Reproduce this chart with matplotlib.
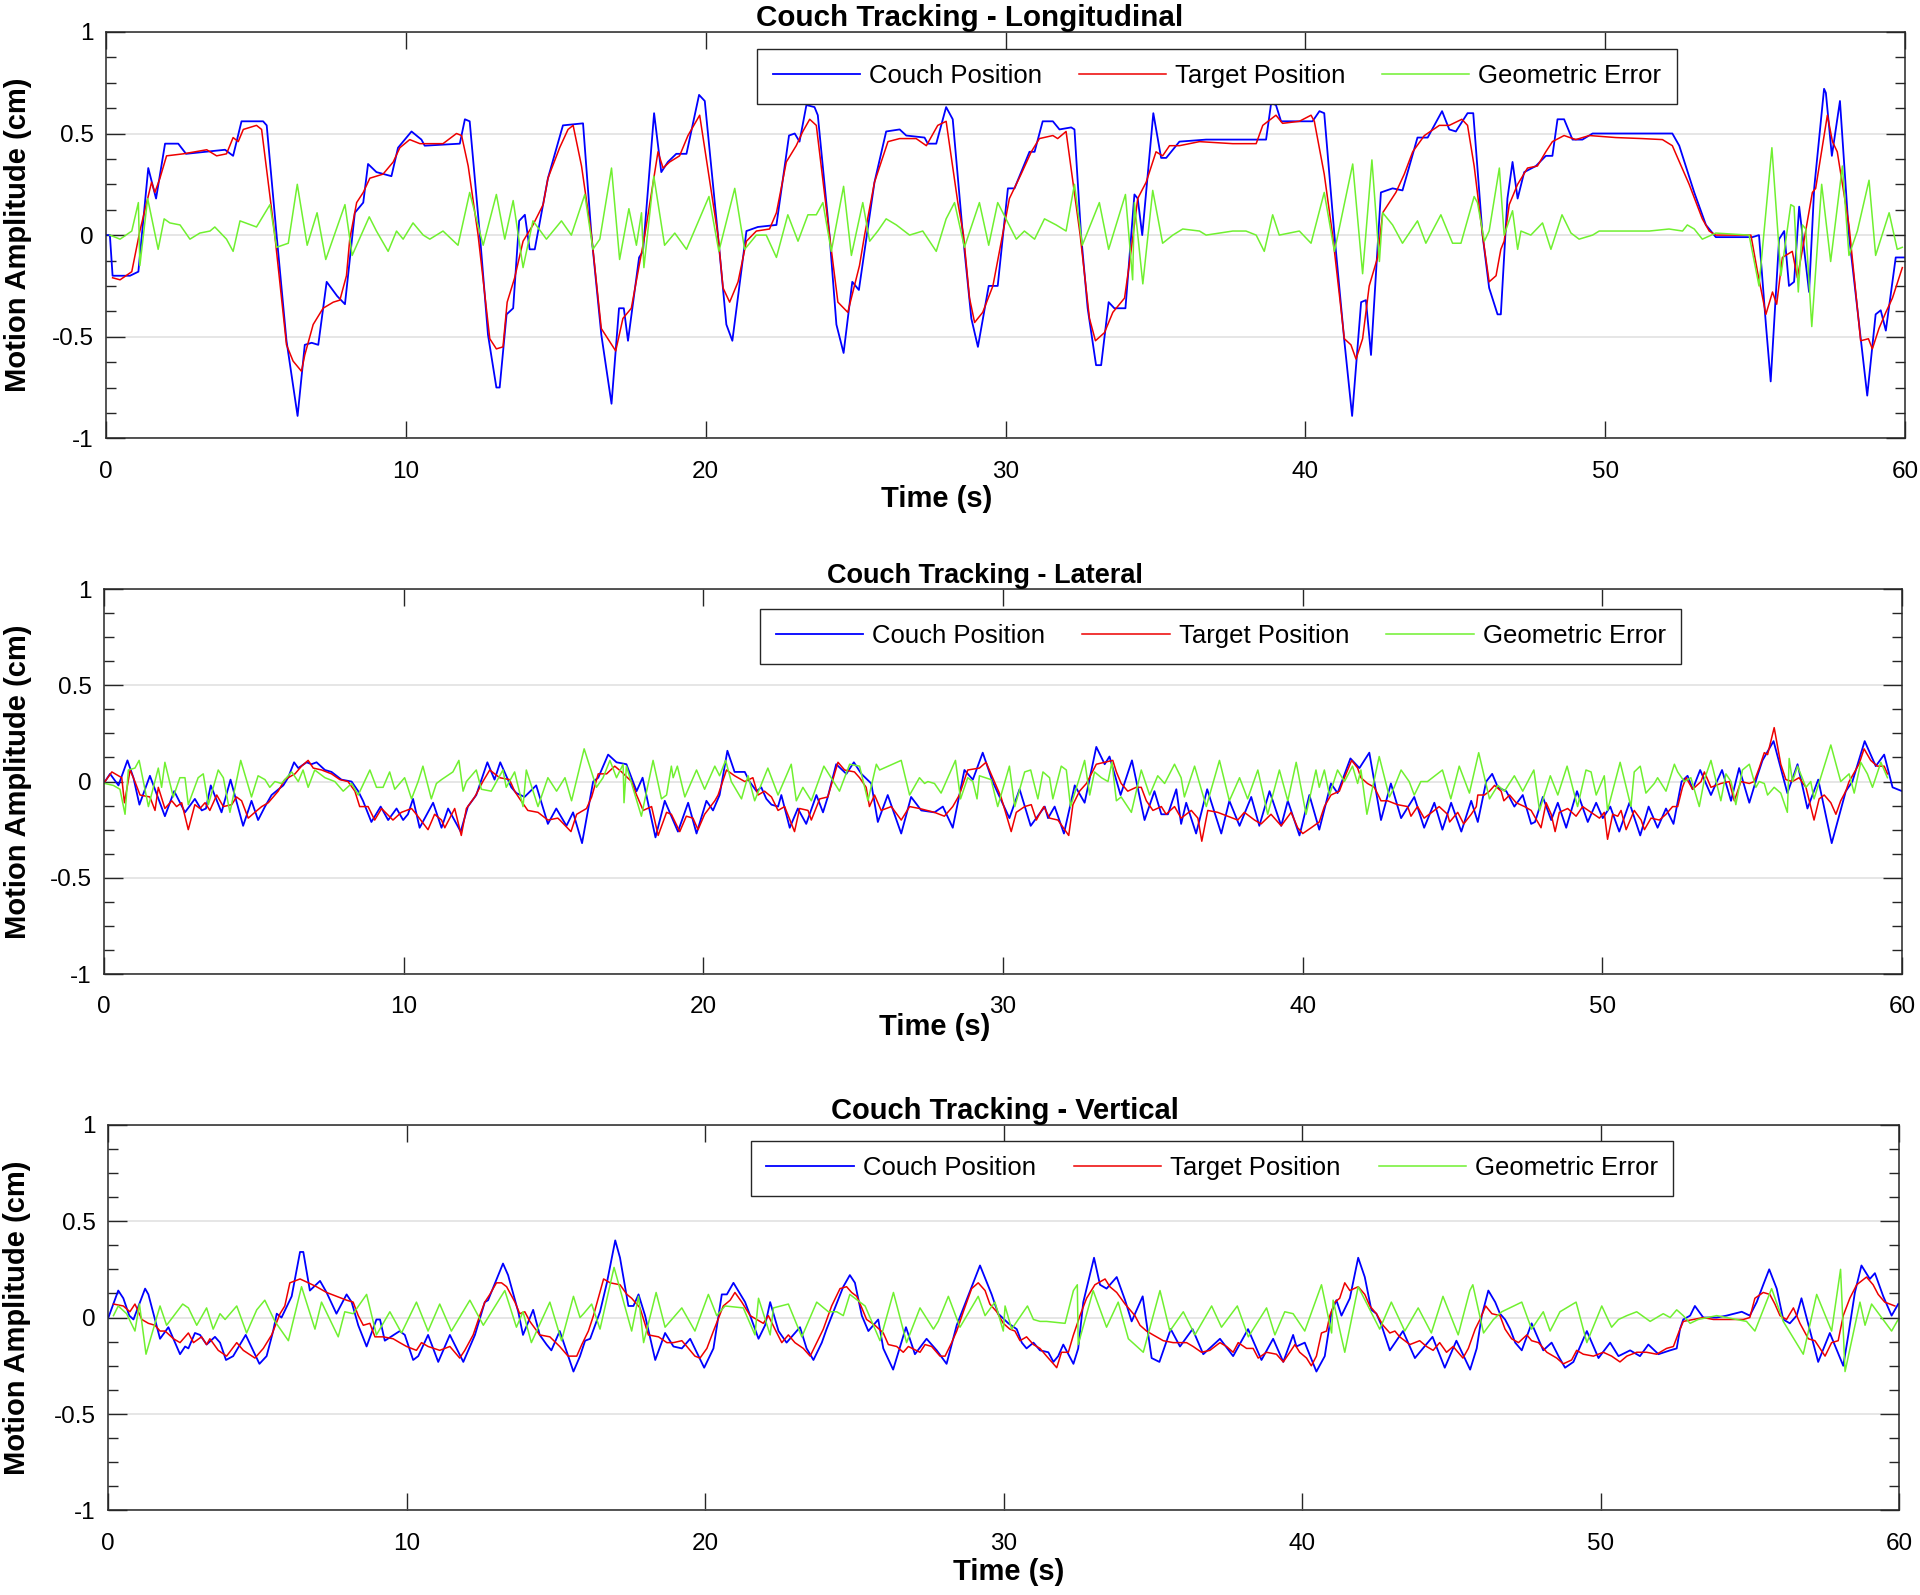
import numpy as np
import matplotlib.pyplot as plt
from matplotlib.ticker import MultipleLocator

plt.rcParams['font.family'] = ['Liberation Sans', 'DejaVu Sans']

# ---- Longitudinal (time s, amplitude cm) ----
long_couch = [
    (0.0, 0.0), (0.13, 0.0), (0.22, -0.2), (0.8, -0.2), (1.08, -0.18), (1.41, 0.33), (1.67, 0.18), (1.97, 0.45),
    (2.41, 0.45), (2.67, 0.40), (3.97, 0.42), (4.24, 0.39), (4.52, 0.56), (5.24, 0.56), (5.36, 0.54), (5.69, 0.0),
    (6.02, -0.52), (6.39, -0.89), (6.63, -0.54), (6.86, -0.53), (7.08, -0.54), (7.36, -0.23), (7.71, -0.30),
    (7.97, -0.34), (8.3, 0.11), (8.58, 0.16), (8.74, 0.35), (9.02, 0.31), (9.52, 0.29), (9.74, 0.43), (10.19, 0.51),
    (10.52, 0.47), (10.63, 0.44), (11.8, 0.45), (11.97, 0.57), (12.13, 0.56), (12.47, 0.0), (12.74, -0.49),
    (13.02, -0.75), (13.13, -0.75), (13.36, -0.39), (13.58, -0.36), (13.78, 0.07), (13.97, 0.10), (14.13, -0.07),
    (14.3, -0.07), (14.74, 0.28), (15.24, 0.54), (15.91, 0.55), (16.19, 0.0), (16.52, -0.49), (16.86, -0.83),
    (17.11, -0.36), (17.27, -0.36), (17.41, -0.52), (17.78, -0.11), (17.91, -0.08), (18.28, 0.60), (18.52, 0.31),
    (18.74, 0.36), (19.02, 0.40), (19.36, 0.40), (19.78, 0.69), (19.97, 0.66), (20.41, 0.0), (20.69, -0.44),
    (20.89, -0.52), (21.36, 0.02), (21.74, 0.04), (22.36, 0.05), (22.78, 0.49), (22.97, 0.50), (23.13, 0.46),
    (23.36, 0.64), (23.63, 0.63), (23.74, 0.59), (24.13, 0.0), (24.36, -0.44), (24.6, -0.58), (24.89, -0.23),
    (25.11, -0.27), (25.63, 0.26), (26.02, 0.51), (26.47, 0.52), (26.69, 0.49), (27.3, 0.48), (27.41, 0.45),
    (27.69, 0.45), (28.02, 0.63), (28.24, 0.57), (28.58, 0.0), (28.86, -0.41), (29.08, -0.55), (29.44, -0.25),
    (29.74, -0.25), (30.08, 0.23), (30.3, 0.23), (30.8, 0.41), (30.97, 0.41), (31.24, 0.56), (31.58, 0.56),
    (31.8, 0.52), (32.19, 0.53), (32.3, 0.52), (32.52, 0.0), (32.74, -0.36), (33.02, -0.64), (33.19, -0.64),
    (33.44, -0.33), (33.63, -0.36), (34.0, -0.36), (34.3, 0.20), (34.41, 0.18), (34.56, 0.0), (34.93, 0.60),
    (35.19, 0.38), (35.36, 0.38), (35.8, 0.46), (36.69, 0.47), (38.02, 0.47), (38.69, 0.47), (38.86, 0.65),
    (39.02, 0.64), (39.19, 0.56), (40.24, 0.56), (40.47, 0.61), (40.63, 0.60), (40.97, 0.0), (41.3, -0.52),
    (41.56, -0.89), (41.86, -0.33), (42.02, -0.32), (42.19, -0.59), (42.52, 0.21), (42.91, 0.23), (43.24, 0.22),
    (43.74, 0.48), (44.08, 0.48), (44.56, 0.61), (44.8, 0.52), (45.02, 0.51), (45.41, 0.60), (45.6, 0.60),
    (45.91, 0.0), (46.13, -0.26), (46.41, -0.39), (46.52, -0.39), (46.74, 0.18), (46.91, 0.36), (47.08, 0.18),
    (47.3, 0.31), (47.69, 0.34), (48.02, 0.39), (48.24, 0.39), (48.41, 0.57), (48.63, 0.57), (48.91, 0.47),
    (49.24, 0.47), (49.58, 0.50), (52.24, 0.50), (52.47, 0.44), (52.97, 0.21), (53.36, 0.05), (53.69, -0.01),
    (54.91, -0.01), (55.13, 0.0), (55.36, -0.44), (55.52, -0.72), (55.8, -0.02), (55.97, 0.02), (56.13, -0.25),
    (56.3, -0.23), (56.47, 0.14), (56.8, -0.28), (56.97, 0.23), (57.3, 0.72), (57.36, 0.70), (57.56, 0.39),
    (57.83, 0.66), (58.13, 0.0), (58.47, -0.44), (58.74, -0.79), (59.02, -0.39), (59.19, -0.37), (59.36, -0.47),
    (59.69, -0.11), (60.0, -0.11),
]
long_target = [
    (0.22, -0.21), (0.47, -0.22), (0.86, -0.18), (1.13, 0.02), (1.52, 0.26), (1.63, 0.21), (1.8, 0.28),
    (2.02, 0.39), (2.58, 0.40), (3.36, 0.42), (3.69, 0.39), (4.02, 0.40), (4.24, 0.48), (4.41, 0.46), (4.58, 0.52),
    (5.02, 0.54), (5.19, 0.52), (5.63, 0.0), (6.02, -0.54), (6.24, -0.62), (6.52, -0.67), (6.63, -0.59),
    (6.91, -0.44), (7.24, -0.36), (7.58, -0.33), (7.8, -0.32), (8.02, -0.20), (8.13, -0.02), (8.36, 0.16),
    (8.58, 0.21), (8.8, 0.28), (9.24, 0.30), (9.58, 0.36), (9.8, 0.43), (10.13, 0.47), (10.47, 0.45), (11.24, 0.45),
    (11.69, 0.50), (11.86, 0.49), (12.08, 0.34), (12.41, 0.0), (12.8, -0.51), (13.02, -0.56), (13.24, -0.55),
    (13.38, -0.33), (13.63, -0.21), (13.91, -0.03), (14.24, 0.05), (14.58, 0.15), (14.74, 0.28), (15.13, 0.43),
    (15.41, 0.52), (15.58, 0.54), (15.86, 0.34), (16.19, 0.0), (16.52, -0.46), (16.74, -0.51), (17.0, -0.57),
    (17.24, -0.41), (17.52, -0.36), (17.97, 0.0), (18.41, 0.41), (18.58, 0.33), (18.8, 0.36), (19.13, 0.39),
    (19.41, 0.49), (19.8, 0.59), (20.41, 0.0), (20.58, -0.26), (20.8, -0.33), (21.08, -0.23), (21.36, -0.03),
    (21.69, 0.02), (22.13, 0.03), (22.36, 0.11), (22.69, 0.36), (23.02, 0.44), (23.24, 0.51), (23.47, 0.57),
    (23.69, 0.54), (24.13, 0.0), (24.41, -0.33), (24.74, -0.38), (25.13, -0.15), (25.3, 0.0), (25.63, 0.26),
    (26.08, 0.46), (26.47, 0.475), (27.02, 0.475), (27.36, 0.44), (27.74, 0.54), (28.02, 0.56), (28.41, 0.16),
    (28.6, 0.0), (28.8, -0.31), (28.97, -0.43), (29.24, -0.38), (29.58, -0.25), (29.86, -0.03), (30.13, 0.18),
    (30.52, 0.30), (30.86, 0.41), (31.13, 0.475), (31.58, 0.49), (31.74, 0.475), (32.02, 0.51), (32.49, 0.0),
    (32.8, -0.41), (33.0, -0.52), (33.3, -0.48), (33.58, -0.38), (33.97, -0.31), (34.16, -0.11), (34.41, 0.18),
    (34.69, 0.26), (35.02, 0.41), (35.24, 0.39), (35.47, 0.44), (35.8, 0.44), (36.47, 0.46), (37.58, 0.45),
    (38.36, 0.45), (38.58, 0.54), (39.02, 0.59), (39.24, 0.55), (39.8, 0.56), (40.19, 0.59), (40.3, 0.56),
    (40.63, 0.30), (40.91, 0.0), (41.3, -0.51), (41.52, -0.54), (41.69, -0.61), (41.91, -0.51), (42.13, -0.25),
    (42.41, -0.11), (42.58, 0.11), (43.02, 0.21), (43.3, 0.30), (43.58, 0.41), (43.97, 0.49), (44.47, 0.54),
    (44.8, 0.54), (45.22, 0.57), (45.41, 0.54), (45.63, 0.34), (45.91, 0.0), (46.13, -0.23), (46.36, -0.20),
    (46.52, -0.07), (46.63, -0.03), (46.8, 0.15), (47.08, 0.25), (47.41, 0.33), (47.74, 0.34), (48.02, 0.41),
    (48.24, 0.46), (48.63, 0.49), (49.02, 0.47), (49.47, 0.49), (50.36, 0.48), (51.24, 0.475), (51.91, 0.47),
    (52.24, 0.44), (52.8, 0.25), (53.24, 0.08), (53.47, 0.02), (53.69, 0.0), (54.86, 0.0), (55.08, -0.18),
    (55.36, -0.39), (55.58, -0.28), (55.72, -0.34), (55.91, -0.11), (56.24, -0.08), (56.41, -0.21), (56.58, -0.07),
    (56.91, 0.21), (57.02, 0.23), (57.41, 0.59), (57.58, 0.46), (57.74, 0.41), (58.13, 0.05), (58.52, -0.52),
    (58.78, -0.51), (58.91, -0.56), (59.13, -0.46), (59.36, -0.38), (59.58, -0.31), (59.91, -0.16),
]
long_error = [
    (0.13, 0.0), (0.47, -0.02), (0.86, 0.02), (1.08, 0.16), (1.13, -0.15), (1.39, 0.18), (1.74, -0.07),
    (1.94, 0.08), (2.13, 0.06), (2.47, 0.05), (2.8, -0.02), (3.13, 0.01), (3.47, 0.02), (3.63, 0.04), (4.02, -0.02),
    (4.24, -0.08), (4.47, 0.07), (5.02, 0.04), (5.47, 0.15), (5.69, -0.06), (6.08, -0.04), (6.38, 0.25),
    (6.71, -0.05), (7.04, 0.11), (7.33, -0.12), (7.97, 0.15), (8.21, -0.10), (8.78, 0.09), (9.02, 0.02),
    (9.41, -0.08), (9.69, 0.02), (9.91, -0.02), (10.24, 0.06), (10.58, 0.0), (10.8, -0.02), (11.24, 0.02),
    (11.74, -0.05), (12.13, 0.21), (12.58, -0.05), (13.02, 0.20), (13.3, -0.02), (13.58, 0.17), (13.91, -0.16),
    (14.24, 0.07), (14.69, -0.02), (15.19, 0.07), (15.52, 0.0), (15.97, 0.20), (16.24, -0.07), (16.47, -0.02),
    (16.86, 0.33), (17.13, -0.12), (17.44, 0.13), (17.69, -0.05), (17.86, 0.11), (17.94, -0.16), (18.27, 0.29),
    (18.63, -0.05), (18.97, 0.01), (19.36, -0.07), (20.11, 0.19), (20.44, -0.08), (20.97, 0.23), (21.3, -0.07),
    (21.69, 0.0), (22.02, 0.0), (22.36, -0.11), (22.74, 0.10), (23.08, -0.03), (23.41, 0.10), (23.69, 0.10),
    (23.91, 0.16), (24.19, -0.08), (24.6, 0.24), (24.86, -0.10), (25.24, 0.16), (25.47, -0.03), (25.74, 0.02),
    (26.02, 0.08), (26.36, 0.05), (26.8, 0.0), (27.24, 0.02), (27.69, -0.08), (28.02, 0.08), (28.3, 0.16),
    (28.63, -0.06), (29.13, 0.16), (29.44, -0.05), (29.74, 0.16), (30.36, -0.02), (30.63, 0.02), (30.97, -0.02),
    (31.3, 0.08), (31.69, 0.05), (32.02, 0.02), (32.3, 0.25), (32.56, -0.05), (33.13, 0.16), (33.44, -0.07),
    (34.0, 0.20), (34.24, -0.22), (34.3, 0.16), (34.58, -0.24), (34.91, 0.22), (35.24, -0.04), (35.58, 0.0),
    (35.91, 0.03), (36.47, 0.02), (36.69, 0.0), (37.58, 0.02), (38.02, 0.02), (38.36, 0.0), (38.63, -0.08),
    (38.91, 0.10), (39.13, 0.0), (39.8, 0.02), (40.19, -0.04), (40.63, 0.21), (40.97, -0.08), (41.58, 0.35),
    (41.91, -0.19), (42.22, 0.37), (42.47, -0.13), (42.58, 0.11), (42.91, 0.05), (43.24, -0.04), (43.74, 0.07),
    (44.02, -0.04), (44.52, 0.10), (44.91, -0.04), (45.19, -0.04), (45.63, 0.19), (45.74, 0.16), (45.97, -0.03),
    (46.13, 0.02), (46.47, 0.33), (46.63, 0.0), (46.91, 0.12), (47.08, -0.07), (47.19, 0.02), (47.52, 0.0),
    (47.91, 0.06), (48.19, -0.07), (48.56, 0.10), (48.86, 0.01), (49.13, -0.02), (49.58, 0.0), (49.8, 0.02),
    (50.58, 0.02), (51.47, 0.02), (52.13, 0.03), (52.58, 0.02), (52.74, 0.05), (52.97, 0.03), (53.24, -0.02),
    (53.69, 0.01), (54.8, 0.0), (55.13, -0.25), (55.56, 0.43), (55.86, -0.20), (56.19, 0.15), (56.3, 0.14),
    (56.44, -0.28), (56.58, 0.05), (56.69, 0.03), (56.89, -0.45), (57.22, 0.25), (57.52, -0.13), (57.91, 0.34),
    (58.13, -0.10), (58.41, 0.02), (58.8, 0.27), (59.02, -0.10), (59.47, 0.11), (59.74, -0.07), (59.91, -0.06),
]

# ---- Lateral ----
lat_couch = [
    (0.03, 0.0), (0.2, 0.04), (0.48, -0.02), (0.78, 0.11), (0.98, 0.02), (1.18, -0.12), (1.53, 0.03),
    (2.03, -0.18), (2.34, -0.05), (2.7, -0.16), (3.03, -0.09), (3.26, -0.15), (3.4, -0.14), (3.56, -0.02),
    (3.92, -0.16), (4.22, 0.01), (4.64, -0.23), (4.92, -0.10), (5.14, -0.20), (5.37, -0.13), (5.59, -0.07),
    (5.98, -0.02), (6.14, 0.02), (6.34, 0.10), (6.48, 0.07), (6.76, 0.10), (6.92, 0.09), (7.09, 0.10),
    (7.37, 0.06), (7.59, 0.05), (7.92, 0.01), (8.26, 0.0), (8.48, -0.05), (8.64, -0.10), (8.92, -0.21),
    (9.23, -0.13), (9.48, -0.20), (9.76, -0.14), (9.98, -0.20), (10.14, -0.17), (10.31, -0.09), (10.53, -0.24),
    (10.98, -0.11), (11.26, -0.24), (11.48, -0.14), (11.9, -0.26), (12.14, -0.13), (12.42, -0.07), (12.79, 0.10),
    (13.03, 0.01), (13.22, 0.10), (13.59, -0.03), (13.76, -0.06), (14.03, -0.08), (14.42, -0.02), (14.81, -0.22),
    (15.09, -0.14), (15.43, -0.23), (15.65, -0.16), (15.95, -0.32), (16.32, 0.0), (16.49, 0.02), (16.82, 0.14),
    (17.1, 0.10), (17.43, 0.09), (17.65, 0.0), (17.77, -0.05), (17.97, 0.02), (18.4, -0.29), (18.71, -0.10),
    (19.15, -0.26), (19.49, -0.11), (19.77, -0.27), (20.1, -0.10), (20.32, -0.15), (20.54, -0.07), (20.8, 0.16),
    (21.04, 0.05), (21.38, 0.05), (21.54, 0.0), (21.77, -0.05), (21.93, -0.03), (22.1, -0.09), (22.27, -0.12),
    (22.49, -0.13), (22.6, -0.07), (22.88, -0.24), (23.15, -0.14), (23.43, -0.22), (23.77, -0.07), (23.99, -0.16),
    (24.15, -0.08), (24.43, 0.09), (24.77, 0.04), (25.02, 0.10), (25.27, 0.04), (25.6, -0.01), (25.82, -0.21),
    (26.15, -0.07), (26.6, -0.27), (26.93, -0.08), (27.27, -0.15), (27.71, -0.16), (27.99, -0.13), (28.32, -0.24),
    (28.54, -0.07), (28.71, 0.06), (28.99, 0.01), (29.32, 0.15), (29.65, 0.0), (30.21, -0.19), (30.55, -0.04),
    (30.92, -0.23), (31.39, -0.13), (31.5, -0.19), (31.72, -0.13), (32.03, -0.27), (32.39, -0.02), (32.72, -0.11),
    (33.11, 0.18), (33.39, 0.09), (33.55, 0.13), (33.92, -0.07), (34.3, 0.11), (34.72, -0.20), (35.05, -0.05),
    (35.28, -0.17), (35.5, -0.17), (35.78, -0.04), (35.94, -0.22), (36.11, -0.11), (36.44, -0.27), (36.81, -0.04),
    (37.28, -0.27), (37.55, -0.10), (37.89, -0.23), (38.28, -0.08), (38.55, -0.23), (38.89, -0.05), (39.28, -0.23),
    (39.5, -0.10), (39.89, -0.28), (40.22, -0.07), (40.55, -0.25), (40.94, -0.01), (41.16, -0.06), (41.59, 0.12),
    (41.89, 0.07), (42.22, 0.15), (42.61, -0.20), (42.94, -0.01), (43.28, -0.19), (43.72, -0.08), (44.05, -0.24),
    (44.39, -0.11), (44.66, -0.25), (44.95, -0.11), (45.29, -0.26), (45.62, -0.10), (45.84, -0.21), (46.12, 0.0),
    (46.32, 0.04), (46.51, -0.03), (46.79, -0.05), (47.06, -0.13), (47.34, -0.07), (47.62, -0.22), (47.75, -0.21),
    (48.01, -0.08), (48.29, -0.20), (48.51, -0.11), (48.79, -0.24), (49.15, -0.05), (49.51, -0.21), (49.79, -0.11),
    (50.01, -0.19), (50.26, -0.13), (50.56, -0.26), (50.9, -0.11), (51.26, -0.28), (51.54, -0.13), (51.84, -0.24),
    (52.12, -0.14), (52.37, -0.22), (52.64, 0.0), (52.84, 0.03), (53.01, -0.04), (53.26, 0.06), (53.62, -0.07),
    (53.99, 0.06), (54.29, -0.10), (54.56, 0.07), (54.9, -0.11), (55.17, 0.03), (55.34, 0.11), (55.71, 0.21),
    (56.17, -0.06), (56.51, 0.09), (56.84, -0.14), (57.2, 0.01), (57.65, -0.32), (58.12, -0.05), (58.34, 0.0),
    (58.75, 0.21), (59.12, 0.08), (59.4, 0.14), (59.68, -0.03), (60.0, -0.05),
]
lat_target = [
    (0.03, 0.0), (0.26, 0.05), (0.59, 0.02), (0.68, -0.11), (0.87, 0.06), (1.03, 0.0), (1.2, -0.07), (1.53, -0.08),
    (1.7, -0.15), (1.81, -0.03), (2.03, -0.14), (2.26, -0.10), (2.42, -0.13), (2.59, -0.11), (2.81, -0.25),
    (3.03, -0.12), (3.2, -0.14), (3.37, -0.11), (3.53, -0.15), (3.76, -0.07), (3.98, -0.13), (4.26, -0.12),
    (4.42, -0.08), (4.59, -0.10), (4.81, -0.19), (5.03, -0.16), (5.26, -0.13), (5.48, -0.11), (5.81, -0.05),
    (6.03, 0.01), (6.37, 0.04), (6.59, 0.08), (6.81, 0.11), (6.98, 0.07), (7.26, 0.06), (7.59, 0.04), (7.87, 0.01),
    (8.14, 0.0), (8.37, -0.05), (8.53, -0.13), (8.81, -0.13), (9.03, -0.20), (9.26, -0.14), (9.64, -0.20),
    (9.92, -0.16), (10.26, -0.14), (10.42, -0.17), (10.81, -0.25), (11.03, -0.17), (11.26, -0.20), (11.37, -0.24),
    (11.7, -0.14), (11.92, -0.28), (12.09, -0.14), (12.37, -0.08), (12.64, 0.0), (12.87, 0.06), (13.2, 0.02),
    (13.53, 0.01), (13.7, -0.05), (13.87, -0.09), (14.14, -0.15), (14.48, -0.16), (14.81, -0.20), (15.14, -0.19),
    (15.21, -0.20), (15.58, -0.26), (15.77, -0.17), (16.1, -0.14), (16.27, -0.08), (16.49, 0.04), (16.77, 0.04),
    (17.04, 0.08), (17.27, 0.05), (17.6, 0.0), (17.77, -0.07), (17.99, -0.15), (18.27, -0.13), (18.49, -0.28),
    (18.77, -0.16), (18.93, -0.17), (19.21, -0.26), (19.43, -0.18), (19.65, -0.19), (19.82, -0.25), (20.04, -0.17),
    (20.38, -0.10), (20.49, -0.07), (20.77, 0.06), (21.04, 0.03), (21.38, 0.0), (21.65, 0.02), (21.82, -0.07),
    (22.04, -0.05), (22.27, -0.08), (22.49, -0.15), (22.71, -0.13), (23.04, -0.26), (23.21, -0.14), (23.49, -0.15),
    (23.6, -0.20), (23.88, -0.09), (24.15, -0.08), (24.49, 0.10), (24.71, 0.06), (25.04, 0.05), (25.21, 0.02),
    (25.43, -0.03), (25.54, -0.13), (25.71, -0.07), (25.93, -0.15), (26.27, -0.13), (26.6, -0.20), (26.88, -0.13),
    (27.21, -0.14), (27.71, -0.16), (28.04, -0.18), (28.32, -0.13), (28.54, -0.07), (28.82, 0.06), (29.21, 0.07),
    (29.43, 0.10), (29.71, 0.0), (29.93, -0.08), (30.27, -0.26), (30.44, -0.16), (30.72, -0.13), (30.94, -0.12),
    (31.11, -0.20), (31.28, -0.15), (31.36, -0.13), (31.55, -0.19), (31.83, -0.20), (32.19, -0.28), (32.33, -0.12),
    (32.55, -0.05), (32.78, -0.01), (33.11, 0.09), (33.39, 0.10), (33.66, 0.11), (33.78, 0.05), (33.94, -0.01),
    (34.16, -0.05), (34.44, -0.03), (34.61, -0.03), (34.78, -0.10), (35.0, -0.15), (35.28, -0.13), (35.44, -0.17),
    (35.72, -0.13), (35.94, -0.19), (36.28, -0.15), (36.5, -0.19), (36.63, -0.31), (36.83, -0.15), (37.16, -0.16),
    (37.5, -0.18), (37.83, -0.20), (38.05, -0.16), (38.39, -0.20), (38.61, -0.22), (38.94, -0.17), (39.28, -0.23),
    (39.61, -0.16), (39.83, -0.24), (40.0, -0.27), (40.28, -0.24), (40.55, -0.21), (40.72, -0.13), (40.94, -0.07),
    (41.22, -0.05), (41.39, 0.02), (41.63, 0.11), (41.83, 0.07), (41.94, 0.02), (42.16, -0.01), (42.39, -0.03),
    (42.61, -0.10), (42.83, -0.10), (43.16, -0.12), (43.5, -0.13), (43.61, -0.18), (43.83, -0.13), (44.05, -0.19),
    (44.39, -0.15), (44.55, -0.13), (44.83, -0.17), (44.9, -0.21), (45.17, -0.16), (45.37, -0.22), (45.62, -0.17),
    (45.79, -0.13), (45.84, -0.07), (46.06, -0.07), (46.23, -0.05), (46.4, -0.02), (46.62, -0.05), (46.71, -0.10),
    (46.9, -0.07), (47.12, -0.11), (47.4, -0.13), (47.62, -0.15), (47.95, -0.24), (48.12, -0.11), (48.29, -0.17),
    (48.42, -0.26), (48.56, -0.16), (48.84, -0.14), (49.12, -0.18), (49.34, -0.13), (49.62, -0.16), (49.9, -0.19),
    (50.06, -0.16), (50.17, -0.30), (50.34, -0.17), (50.51, -0.18), (50.62, -0.15), (50.79, -0.25), (51.06, -0.15),
    (51.29, -0.20), (51.4, -0.25), (51.62, -0.19), (51.9, -0.20), (52.12, -0.17), (52.34, -0.13), (52.51, -0.13),
    (52.67, -0.03), (52.79, 0.02), (53.01, -0.04), (53.29, 0.0), (53.4, 0.05), (53.62, -0.03), (53.95, -0.01),
    (54.23, 0.0), (54.4, -0.10), (54.62, 0.0), (54.9, -0.01), (55.06, 0.0), (55.23, 0.07), (55.4, 0.15),
    (55.51, 0.14), (55.73, 0.28), (55.95, 0.09), (56.12, 0.01), (56.34, 0.0), (56.56, 0.02), (56.79, -0.03),
    (57.06, -0.20), (57.23, -0.09), (57.4, -0.07), (57.62, -0.11), (57.79, -0.17), (57.95, -0.10), (58.12, -0.05),
    (58.23, 0.0), (58.56, 0.09), (58.73, 0.17), (58.95, 0.11), (59.17, 0.08), (59.4, 0.08), (59.51, 0.04),
]
lat_error = [
    (0.03, -0.01), (0.31, -0.02), (0.53, -0.04), (0.7, -0.17), (0.81, 0.06), (1.03, 0.07), (1.17, 0.11),
    (1.48, -0.13), (1.81, 0.07), (1.92, -0.03), (2.03, 0.10), (2.31, -0.08), (2.53, 0.02), (2.7, 0.02),
    (2.81, -0.12), (3.14, 0.02), (3.31, 0.04), (3.48, -0.12), (3.81, 0.06), (3.98, 0.02), (4.2, -0.16),
    (4.56, 0.11), (4.92, -0.08), (5.14, 0.03), (5.37, 0.01), (5.53, -0.03), (5.7, 0.0), (5.92, -0.01), (6.26, 0.05),
    (6.48, 0.0), (6.64, 0.06), (6.81, -0.03), (7.03, 0.06), (7.37, 0.02), (7.7, 0.0), (7.98, -0.05), (8.26, -0.01),
    (8.48, -0.07), (8.87, 0.06), (9.09, -0.03), (9.31, -0.03), (9.53, 0.05), (9.7, -0.04), (10.03, 0.02),
    (10.26, -0.09), (10.48, 0.0), (10.64, 0.08), (10.92, -0.09), (11.09, -0.01), (11.26, 0.01), (11.64, 0.05),
    (11.84, 0.11), (11.98, -0.05), (12.09, 0.0), (12.42, 0.06), (12.59, -0.04), (12.92, -0.05), (13.31, 0.06),
    (13.42, -0.03), (13.7, 0.05), (13.98, -0.13), (14.09, 0.06), (14.48, -0.13), (14.81, 0.02), (15.1, -0.05),
    (15.38, 0.02), (15.6, -0.10), (16.02, 0.17), (16.43, -0.03), (16.65, 0.02), (16.88, 0.11), (17.1, 0.02),
    (17.32, 0.09), (17.35, -0.11), (17.43, 0.08), (17.93, -0.18), (18.32, 0.11), (18.6, -0.09), (18.77, -0.07),
    (18.93, 0.08), (18.99, 0.02), (19.13, 0.08), (19.38, -0.08), (19.77, 0.06), (20.04, -0.04), (20.38, 0.08),
    (20.54, 0.03), (20.74, 0.11), (20.93, 0.0), (21.27, -0.09), (21.49, 0.03), (21.71, -0.10), (22.15, 0.07),
    (22.49, -0.07), (22.93, 0.09), (23.1, -0.10), (23.32, -0.03), (23.6, -0.10), (24.02, 0.08), (24.54, -0.05),
    (24.88, 0.09), (25.21, 0.08), (25.49, -0.10), (25.77, 0.09), (25.88, 0.06), (26.6, 0.11), (26.88, -0.07),
    (27.1, -0.01), (27.21, 0.02), (27.38, -0.01), (27.49, 0.0), (27.71, -0.01), (27.93, -0.06), (28.41, 0.11),
    (28.58, -0.09), (28.82, 0.02), (28.99, 0.0), (29.13, -0.09), (29.21, 0.03), (29.6, 0.01), (29.82, -0.13),
    (30.21, 0.08), (30.39, -0.13), (30.72, 0.05), (30.92, 0.06), (31.16, -0.09), (31.33, 0.05), (31.55, 0.02),
    (31.66, -0.09), (31.94, 0.08), (32.11, 0.06), (32.25, -0.13), (32.55, 0.02), (32.72, 0.11), (32.89, -0.07),
    (33.05, 0.05), (33.28, 0.02), (33.5, 0.0), (33.63, 0.10), (33.78, -0.10), (33.94, -0.08), (34.28, -0.16),
    (34.61, 0.06), (34.89, -0.07), (35.16, 0.03), (35.39, -0.01), (35.72, 0.09), (35.94, 0.02), (36.05, -0.08),
    (36.39, 0.08), (36.78, -0.13), (37.22, 0.11), (37.55, -0.10), (37.89, 0.02), (38.16, -0.09), (38.5, 0.06),
    (38.83, -0.17), (39.22, 0.06), (39.5, -0.10), (39.78, 0.10), (40.11, -0.17), (40.44, 0.06), (40.55, -0.03),
    (40.72, 0.06), (40.89, -0.07), (41.16, 0.06), (41.39, 0.0), (41.66, 0.08), (41.83, -0.01), (41.94, 0.06),
    (42.14, -0.17), (42.55, 0.13), (42.89, -0.08), (43.05, -0.03), (43.28, 0.06), (43.55, 0.0), (43.72, -0.07),
    (43.94, 0.0), (44.16, 0.0), (44.66, 0.06), (44.94, -0.09), (45.22, 0.08), (45.56, -0.06), (45.87, 0.15),
    (46.23, -0.09), (46.51, -0.02), (46.73, -0.05), (47.06, 0.03), (47.34, -0.05), (47.71, 0.06), (47.9, -0.15),
    (48.26, 0.03), (48.51, -0.07), (48.82, 0.08), (49.17, -0.13), (49.45, 0.06), (49.62, 0.05), (49.79, -0.07),
    (50.06, 0.03), (50.17, -0.15), (50.59, 0.10), (50.95, -0.13), (51.06, 0.05), (51.26, 0.08), (51.45, -0.06),
    (51.73, -0.01), (51.84, 0.02), (52.12, -0.05), (52.4, 0.09), (52.51, 0.05), (52.73, 0.0), (52.95, 0.02),
    (53.23, -0.13), (53.4, 0.01), (53.62, 0.11), (53.95, -0.10), (54.12, 0.04), (54.29, 0.0), (54.45, -0.12),
    (54.67, 0.06), (54.9, 0.09), (55.12, -0.03), (55.23, 0.0), (55.4, -0.01), (55.51, -0.07), (55.73, -0.03),
    (55.95, -0.06), (56.17, -0.16), (56.23, 0.12), (56.34, 0.0), (56.51, 0.08), (56.79, -0.03), (56.95, 0.0),
    (57.06, -0.09), (57.62, 0.19), (57.95, 0.0), (58.23, 0.04), (58.4, -0.06), (58.62, 0.10), (58.84, 0.04),
    (59.01, -0.03), (59.29, 0.10), (59.51, 0.02),
]

# ---- Vertical ----
vert_couch = [
    (0.01, 0.0), (0.34, 0.14), (0.51, 0.10), (0.71, 0.01), (0.85, -0.01), (1.24, 0.15), (1.35, 0.12),
    (1.74, -0.11), (2.02, -0.05), (2.41, -0.19), (2.58, -0.15), (2.69, -0.16), (2.91, -0.08), (3.08, -0.09),
    (3.3, -0.14), (3.58, -0.10), (3.75, -0.13), (3.95, -0.22), (4.19, -0.20), (4.61, -0.09), (5.07, -0.24),
    (5.31, -0.20), (5.53, -0.07), (5.65, 0.02), (5.81, 0.0), (6.15, 0.11), (6.43, 0.34), (6.54, 0.34),
    (6.76, 0.14), (7.1, 0.19), (7.32, 0.13), (7.65, 0.02), (7.99, 0.12), (8.16, 0.08), (8.38, -0.04),
    (8.66, -0.15), (8.99, -0.01), (9.11, -0.01), (9.27, -0.12), (9.77, -0.07), (9.94, -0.09), (10.22, -0.22),
    (10.39, -0.20), (10.72, -0.09), (11.06, -0.23), (11.45, -0.09), (11.9, -0.23), (12.29, -0.09), (12.62, 0.08),
    (12.73, 0.09), (13.23, 0.28), (13.4, 0.22), (13.74, 0.03), (13.9, -0.09), (14.24, 0.04), (14.46, -0.09),
    (14.69, -0.14), (14.85, -0.17), (15.13, -0.07), (15.59, -0.28), (15.81, -0.20), (15.98, -0.12), (16.15, -0.11),
    (16.48, 0.03), (16.71, 0.18), (16.99, 0.40), (17.15, 0.31), (17.43, 0.06), (17.6, 0.06), (17.77, 0.12),
    (17.99, 0.01), (18.33, -0.22), (18.66, -0.08), (18.94, -0.15), (19.22, -0.16), (19.5, -0.11), (19.97, -0.26),
    (20.28, -0.16), (20.56, 0.12), (20.73, 0.12), (20.95, 0.18), (21.34, 0.08), (21.51, 0.01), (21.79, -0.11),
    (22.01, -0.04), (22.18, 0.08), (22.46, -0.07), (22.73, -0.13), (23.18, -0.05), (23.4, -0.16), (23.63, -0.22),
    (23.91, -0.13), (24.07, -0.06), (24.63, 0.16), (24.85, 0.22), (25.02, 0.18), (25.25, 0.01), (25.47, -0.07),
    (25.8, -0.01), (25.97, -0.16), (26.3, -0.27), (26.73, -0.05), (27.03, -0.19), (27.42, -0.11), (27.76, -0.17),
    (28.09, -0.24), (28.43, -0.04), (29.21, 0.27), (29.6, 0.12), (29.82, 0.02), (30.16, -0.03), (30.44, -0.06),
    (30.61, -0.13), (30.77, -0.16), (31.0, -0.13), (31.22, -0.17), (31.5, -0.18), (31.67, -0.23), (31.83, -0.20),
    (32.0, -0.14), (32.34, -0.24), (32.5, -0.16), (32.67, 0.08), (33.03, 0.31), (33.23, 0.17), (33.45, 0.15),
    (33.79, 0.21), (34.07, 0.09), (34.29, -0.02), (34.66, 0.11), (34.96, -0.21), (35.22, -0.23), (35.6, -0.06),
    (35.91, -0.15), (36.33, -0.06), (36.69, -0.19), (37.25, -0.11), (37.69, -0.20), (38.19, -0.06), (38.64, -0.22),
    (39.03, -0.11), (39.37, -0.23), (39.7, -0.09), (39.81, -0.15), (40.09, -0.13), (40.48, -0.28), (40.76, -0.20),
    (40.99, 0.03), (41.15, 0.09), (41.32, 0.01), (41.6, 0.10), (41.88, 0.31), (42.1, 0.21), (42.32, 0.04),
    (42.49, 0.02), (42.66, -0.04), (42.94, -0.17), (43.38, -0.07), (43.78, -0.21), (44.37, -0.10), (44.78, -0.26),
    (45.17, -0.12), (45.63, -0.27), (45.85, -0.16), (46.02, 0.01), (46.24, 0.14), (46.47, 0.08), (46.63, 0.02),
    (46.8, -0.01), (46.97, -0.06), (47.14, -0.13), (47.36, -0.17), (47.69, -0.03), (48.08, -0.17), (48.36, -0.13),
    (48.59, -0.20), (48.81, -0.26), (49.09, -0.23), (49.54, -0.07), (49.93, -0.21), (50.32, -0.13), (50.6, -0.20),
    (50.99, -0.17), (51.32, -0.20), (51.6, -0.14), (51.94, -0.19), (52.33, -0.17), (52.55, -0.16), (52.66, -0.06),
    (52.77, -0.01), (53.0, 0.01), (53.16, 0.06), (53.44, 0.0), (53.89, 0.0), (54.22, 0.01), (54.73, 0.03),
    (55.0, 0.01), (55.23, 0.08), (55.45, 0.17), (55.65, 0.25), (55.9, 0.15), (56.12, -0.01), (56.34, -0.03),
    (56.57, 0.01), (56.73, 0.10), (57.29, -0.23), (57.68, -0.08), (58.13, -0.25), (58.3, -0.09), (58.52, 0.13),
    (58.74, 0.27), (59.02, 0.20), (59.19, 0.23), (59.47, 0.11), (59.75, 0.01), (59.97, 0.07),
]
vert_target = [
    (0.18, 0.07), (0.51, 0.06), (0.73, 0.03), (0.9, 0.07), (1.13, -0.01), (1.35, -0.03), (1.57, -0.04),
    (1.74, -0.07), (1.91, -0.07), (2.19, -0.11), (2.41, -0.13), (2.69, -0.08), (2.86, -0.13), (3.13, -0.10),
    (3.3, -0.14), (3.41, -0.11), (3.69, -0.17), (3.97, -0.20), (4.31, -0.13), (4.53, -0.17), (4.92, -0.21),
    (5.2, -0.16), (5.48, -0.09), (5.76, 0.02), (5.92, 0.06), (6.09, 0.18), (6.43, 0.20), (6.71, 0.18), (6.98, 0.16),
    (7.32, 0.13), (7.65, 0.11), (7.99, 0.09), (8.21, 0.08), (8.38, 0.01), (8.55, -0.04), (8.77, -0.03),
    (8.94, -0.10), (9.22, -0.10), (9.55, -0.11), (9.77, -0.13), (10.0, -0.15), (10.33, -0.17), (10.5, -0.13),
    (10.72, -0.15), (11.11, -0.17), (11.45, -0.15), (11.78, -0.21), (11.95, -0.17), (12.23, -0.09), (12.45, 0.01),
    (12.62, 0.08), (12.79, 0.12), (13.01, 0.18), (13.18, 0.18), (13.35, 0.16), (13.63, 0.08), (13.79, 0.02),
    (13.96, 0.03), (14.13, -0.02), (14.46, -0.09), (14.8, -0.10), (15.13, -0.15), (15.41, -0.20), (15.7, -0.20),
    (15.87, -0.14), (16.09, -0.07), (16.26, 0.01), (16.6, 0.20), (16.82, 0.18), (17.15, 0.17), (17.38, 0.12),
    (17.54, 0.10), (17.82, 0.05), (18.1, -0.09), (18.44, -0.10), (18.72, -0.13), (18.94, -0.13), (19.22, -0.12),
    (19.39, -0.15), (19.66, -0.20), (19.83, -0.21), (20.06, -0.16), (20.28, -0.07), (20.61, 0.06), (20.84, 0.09),
    (21.0, 0.13), (21.23, 0.08), (21.51, 0.01), (21.73, -0.01), (21.95, -0.03), (22.12, 0.01), (22.34, -0.06),
    (22.57, -0.13), (22.79, -0.09), (23.01, -0.13), (23.29, -0.16), (23.52, -0.20), (23.74, -0.13), (23.96, -0.06),
    (24.24, 0.06), (24.52, 0.15), (24.74, 0.16), (24.91, 0.13), (25.08, 0.11), (25.25, 0.05), (25.41, -0.01),
    (25.69, -0.04), (25.97, -0.08), (26.14, -0.14), (26.42, -0.15), (26.64, -0.18), (26.81, -0.15), (27.2, -0.18),
    (27.37, -0.14), (27.59, -0.15), (27.87, -0.20), (28.04, -0.20), (28.26, -0.13), (28.43, -0.07), (28.65, 0.03),
    (28.93, 0.15), (29.15, 0.18), (29.38, 0.14), (29.54, 0.07), (29.77, 0.03), (29.99, -0.03), (30.21, -0.06),
    (30.38, -0.07), (30.55, -0.12), (30.77, -0.10), (31.0, -0.14), (31.22, -0.16), (31.44, -0.20), (31.67, -0.24),
    (31.78, -0.26), (31.94, -0.18), (32.17, -0.18), (32.34, -0.09), (32.56, 0.01), (32.78, 0.10), (33.06, 0.17),
    (33.4, 0.20), (33.56, 0.16), (33.79, 0.13), (34.07, 0.07), (34.29, 0.03), (34.4, 0.01), (34.57, -0.04),
    (34.79, -0.07), (35.01, -0.09), (35.35, -0.12), (35.68, -0.13), (35.91, -0.13), (36.13, -0.13), (36.35, -0.15),
    (36.63, -0.18), (36.91, -0.17), (37.25, -0.13), (37.47, -0.15), (37.69, -0.18), (37.86, -0.13), (38.14, -0.16),
    (38.36, -0.16), (38.53, -0.21), (38.81, -0.18), (39.14, -0.19), (39.37, -0.23), (39.59, -0.18), (39.76, -0.14),
    (39.92, -0.18), (40.15, -0.21), (40.31, -0.25), (40.48, -0.20), (40.65, -0.08), (40.82, -0.07), (40.93, 0.01),
    (41.1, 0.08), (41.26, 0.10), (41.43, 0.18), (41.6, 0.14), (41.88, 0.16), (42.1, 0.12), (42.27, 0.06),
    (42.49, 0.02), (42.71, -0.04), (42.94, -0.08), (43.11, -0.07), (43.27, -0.10), (43.61, -0.14), (43.94, -0.12),
    (44.17, -0.15), (44.39, -0.17), (44.61, -0.13), (44.84, -0.18), (45.06, -0.15), (45.39, -0.21), (45.57, -0.16),
    (45.8, -0.06), (45.96, -0.01), (46.15, 0.06), (46.36, 0.02), (46.63, 0.01), (46.8, -0.06), (47.02, -0.11),
    (47.25, -0.13), (47.53, -0.09), (47.69, -0.12), (47.92, -0.13), (48.2, -0.18), (48.53, -0.21), (48.75, -0.24),
    (49.03, -0.22), (49.2, -0.17), (49.42, -0.19), (49.76, -0.20), (50.09, -0.18), (50.37, -0.20), (50.65, -0.23),
    (50.88, -0.20), (51.21, -0.18), (51.54, -0.18), (51.88, -0.19), (52.21, -0.16), (52.44, -0.15), (52.61, -0.08),
    (52.77, -0.02), (53.11, -0.01), (53.44, 0.0), (53.78, -0.01), (54.11, -0.01), (54.45, -0.01), (54.78, -0.01),
    (55.0, 0.0), (55.17, 0.10), (55.45, 0.13), (55.67, 0.12), (55.84, 0.07), (56.01, 0.01), (56.23, -0.01),
    (56.46, 0.05), (56.68, -0.03), (56.96, -0.11), (57.18, -0.12), (57.52, -0.20), (57.74, -0.13), (57.96, -0.12),
    (58.13, 0.01), (58.35, 0.10), (58.58, 0.17), (58.91, 0.21), (59.13, 0.17), (59.3, 0.12), (59.52, 0.08),
    (59.69, 0.07), (59.86, 0.06),
]
vert_error = [
    (0.18, 0.01), (0.34, 0.06), (0.62, 0.02), (0.9, -0.07), (1.05, 0.07), (1.27, -0.19), (1.74, 0.06),
    (1.96, -0.04), (2.5, 0.07), (2.69, 0.05), (2.97, -0.04), (3.3, 0.05), (3.52, -0.06), (3.75, 0.02), (3.92, -0.01),
    (4.31, 0.06), (4.64, -0.08), (4.98, 0.04), (5.25, 0.09), (5.59, -0.02), (6.04, -0.12), (6.48, 0.16),
    (6.93, -0.06), (7.15, 0.08), (7.71, -0.10), (7.93, 0.03), (8.21, 0.02), (8.66, 0.12), (8.99, -0.09),
    (9.44, 0.03), (9.83, -0.08), (10.33, 0.08), (10.72, -0.07), (11.11, 0.07), (11.5, -0.07), (12.12, 0.09),
    (12.57, -0.04), (13.29, 0.14), (13.68, -0.05), (13.9, 0.03), (14.18, -0.13), (14.8, 0.08), (15.19, -0.12),
    (15.59, 0.11), (15.81, 0.0), (15.93, 0.02), (16.2, 0.07), (16.48, -0.06), (16.95, 0.26), (17.54, -0.07),
    (17.77, 0.11), (17.94, -0.13), (18.36, 0.13), (18.66, -0.05), (19.22, 0.05), (19.66, -0.07), (20.11, 0.12),
    (20.39, 0.01), (20.67, 0.06), (21.28, 0.05), (21.67, -0.09), (21.79, 0.10), (22.18, -0.09), (22.29, 0.05),
    (22.79, 0.07), (23.24, -0.10), (23.74, 0.08), (24.13, 0.03), (24.41, 0.03), (24.63, 0.01), (24.85, 0.12),
    (25.36, 0.06), (25.86, -0.12), (26.31, 0.13), (26.75, -0.13), (27.2, 0.05), (27.65, -0.06), (27.81, -0.02),
    (28.15, 0.11), (28.54, -0.05), (29.15, 0.11), (29.38, 0.01), (29.71, 0.08), (29.99, -0.07), (30.05, 0.06),
    (30.27, -0.06), (30.49, -0.01), (30.8, 0.06), (31.0, -0.01), (31.22, -0.02), (31.44, -0.02), (32.06, -0.03),
    (32.34, 0.14), (32.47, 0.17), (32.5, -0.14), (33.0, 0.14), (33.45, -0.05), (33.84, 0.08), (34.18, -0.11),
    (34.68, -0.18), (35.24, 0.14), (35.57, -0.07), (36.02, 0.03), (36.41, -0.09), (36.97, 0.06), (37.3, -0.05),
    (37.83, 0.06), (38.2, -0.10), (38.81, 0.05), (39.09, -0.09), (39.42, 0.03), (39.7, 0.02), (40.09, -0.07),
    (40.65, 0.17), (40.99, -0.08), (41.04, 0.09), (41.43, -0.18), (41.88, 0.16), (42.6, -0.06), (42.99, 0.08),
    (43.44, -0.07), (43.89, 0.05), (44.33, -0.08), (44.72, 0.11), (45.23, -0.09), (45.62, 0.14), (45.72, 0.17),
    (46.08, -0.08), (46.41, -0.01), (46.69, 0.03), (47.36, 0.08), (47.69, -0.06), (48.08, 0.03), (48.31, -0.07),
    (48.64, 0.03), (49.18, 0.08), (49.54, -0.13), (50.04, 0.06), (50.37, -0.05), (50.6, -0.01), (50.88, 0.01),
    (51.21, 0.03), (51.66, -0.02), (52.1, 0.02), (52.33, 0.0), (52.55, 0.04), (52.77, 0.01), (53.0, -0.03),
    (53.27, -0.01), (53.89, 0.01), (54.56, -0.01), (54.89, -0.02), (55.17, -0.07), (55.73, 0.15), (56.12, -0.02),
    (56.79, -0.19), (57.24, 0.12), (57.74, -0.07), (58.04, 0.25), (58.19, -0.28), (58.69, 0.08), (58.86, -0.04),
    (59.08, 0.07), (59.75, -0.07), (59.97, -0.01),
]

titles = ['Couch Tracking - Longitudinal', 'Couch Tracking - Lateral', 'Couch Tracking - Vertical']
series_names = ['Couch Position', 'Target Position', 'Geometric Error']
y_ticks = [-1, -0.5, 0, 0.5, 1]
y_ticklabels = ['-1', '-0.5', '0', '0.5', '1']
x_ticks = [0, 10, 20, 30, 40, 50, 60]

panels = [
    (long_couch, long_target, long_error),
    (lat_couch, lat_target, lat_error),
    (vert_couch, vert_target, vert_error),
]

# layout (figure fractions) picked to match the reference
rects = [
    [0.0552, 0.7252, 0.9370, 0.2548],
    [0.0542, 0.3893, 0.9365, 0.2414],
    [0.0563, 0.0530, 0.9328, 0.2419],
]
legend_anchor = [(0.362, 0.958, 0.511), (0.365, 0.948, 0.512), (0.359, 0.958, 0.515)]
title_x = [0.480, 0.490, 0.501]
title_size = [21.3, 19.5, 21]
xlabel_pos = [(0.462, -0.115), (0.462, -0.100), (0.503, -0.124)]
ylabel_x = [-0.041, -0.040, -0.043]

colors = ['#0000ff', '#ee0000', '#70f030']
widths = [1.3, 1.1, 1.1]


def unpack(pairs):
    a = np.array(pairs, dtype=float)
    return a[:, 0], a[:, 1]


fig = plt.figure(figsize=(19.2, 15.95), dpi=100)

for i, (data, rect) in enumerate(zip(panels, rects)):
    ax = fig.add_axes(rect)
    for pairs, name, c, lw in zip(data, series_names, colors, widths):
        t, v = unpack(pairs)
        ax.plot(t, v, color=c, lw=lw, label=name, solid_joinstyle='round')

    ax.set_xlim(0, 60)
    ax.set_ylim(-1, 1)
    ax.set_xticks(x_ticks)
    ax.set_xticklabels([str(x) for x in x_ticks])
    ax.set_yticks(y_ticks)
    ax.set_yticklabels(y_ticklabels)
    ax.yaxis.set_minor_locator(MultipleLocator(0.125))
    ax.tick_params(axis='both', which='both', direction='in', top=True, right=True,
                   width=1.0, color='#262626', labelsize=17.5)
    ax.tick_params(axis='y', which='major', length=13.5, pad=9)
    ax.tick_params(axis='y', which='minor', length=7)
    ax.tick_params(axis='x', which='major', length=12, pad=16)
    ax.grid(axis='y', which='major', color='#e2e2e2', lw=1.2)
    ax.set_axisbelow(True)
    for sp in ax.spines.values():
        sp.set_color('#262626')
        sp.set_linewidth(1.1)

    ax.set_title(titles[i], fontsize=title_size[i], fontweight='bold', x=title_x[i], pad=4)
    ax.set_xlabel('Time (s)', fontsize=21, fontweight='bold')
    ax.xaxis.set_label_coords(*xlabel_pos[i])
    ax.set_ylabel('Motion Amplitude (cm)', fontsize=21, fontweight='bold')
    ax.yaxis.set_label_coords(ylabel_x[i], 0.5)

    lx, ly, lw_ = legend_anchor[i]
    leg = ax.legend(loc='upper left', bbox_to_anchor=(lx, ly - 0.15, lw_, 0.15), mode='expand',
                    ncol=3, fontsize=18.5, frameon=True, fancybox=False, framealpha=1,
                    edgecolor='#262626', handlelength=3.4, handletextpad=0.35,
                    borderaxespad=0, borderpad=0.6)
    leg.get_frame().set_linewidth(1.0)

fig.savefig('out.png', dpi=100)
